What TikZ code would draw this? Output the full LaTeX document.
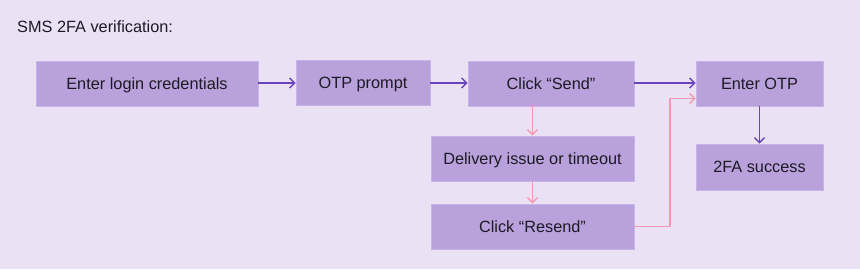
\documentclass[tikz,border=0pt]{standalone}
\usepackage{fontspec}
\setmainfont{Liberation Sans}
\usetikzlibrary{arrows.meta}
\definecolor{bg}{HTML}{EAE2F4}
\definecolor{boxfill}{HTML}{B9A2DC}
\definecolor{boxline}{HTML}{C7B4E6}
\definecolor{arrowp}{HTML}{6A44B8}
\definecolor{arrowk}{HTML}{F39AB2}
\definecolor{txt}{HTML}{1C1A24}
\tikzset{
  stepbox/.style={fill=boxfill, draw=boxline, line width=0.6pt, inner sep=0pt, text=txt, text height=11.7pt, text depth=0pt, font=\fontsize{16.3}{18}\selectfont},
  mainarrow/.style={draw=arrowp, line width=1.5pt, -{Straight Barb[length=5pt,width=10pt,line width=1.5pt]}},
  altarrow/.style={draw=arrowk, line width=1.5pt, -{Straight Barb[length=5pt,width=10pt,line width=1.5pt]}},
}
\begin{document}
\begin{tikzpicture}[x=1pt,y=-1pt]
\fill[bg] (0,0) rectangle (860,269);
\useasboundingbox (0,0) rectangle (860,269);
\node[anchor=west, inner sep=0pt, text=txt, font=\fontsize{16.3}{18}\selectfont] (title) at (17,27) {SMS 2FA verification:};
\node[stepbox, minimum width=222pt, minimum height=45pt] (login) at (147,83.5) {Enter login credentials};
\node[stepbox, minimum width=134pt, minimum height=45pt] (otp) at (363,82.5) {OTP prompt};
\node[stepbox, minimum width=166pt, minimum height=45pt] (send) at (551,83.5) {Click “Send”};
\node[stepbox, minimum width=203pt, minimum height=45pt] (deliv) at (532.5,158.5) {Delivery issue or timeout};
\node[stepbox, minimum width=203pt, minimum height=45pt] (resend) at (532.5,226.5) {Click “Resend”};
\node[stepbox, minimum width=127pt, minimum height=45pt] (enter) at (759.5,83.5) {Enter OTP};
\node[stepbox, minimum width=127pt, minimum height=46pt] (success) at (759.5,167) {2FA success};
\draw[mainarrow] (login.east |- 0,83) -- (otp.west |- 0,83);
\draw[mainarrow] (otp.east |- 0,83) -- (send.west |- 0,83);
\draw[mainarrow] (send.east |- 0,83) -- (enter.west |- 0,83);
\draw[mainarrow] (enter.south) -- (success.north);
\draw[altarrow] (send.south -| deliv.north) -- (deliv.north);
\draw[altarrow] (deliv.south) -- (resend.north);
\coordinate (bend) at (670,226.5);
\draw[altarrow] (resend.east) -- (bend) -- (bend |- 0,98.5) -- (enter.west |- 0,98.5);
\end{tikzpicture}
\end{document}
